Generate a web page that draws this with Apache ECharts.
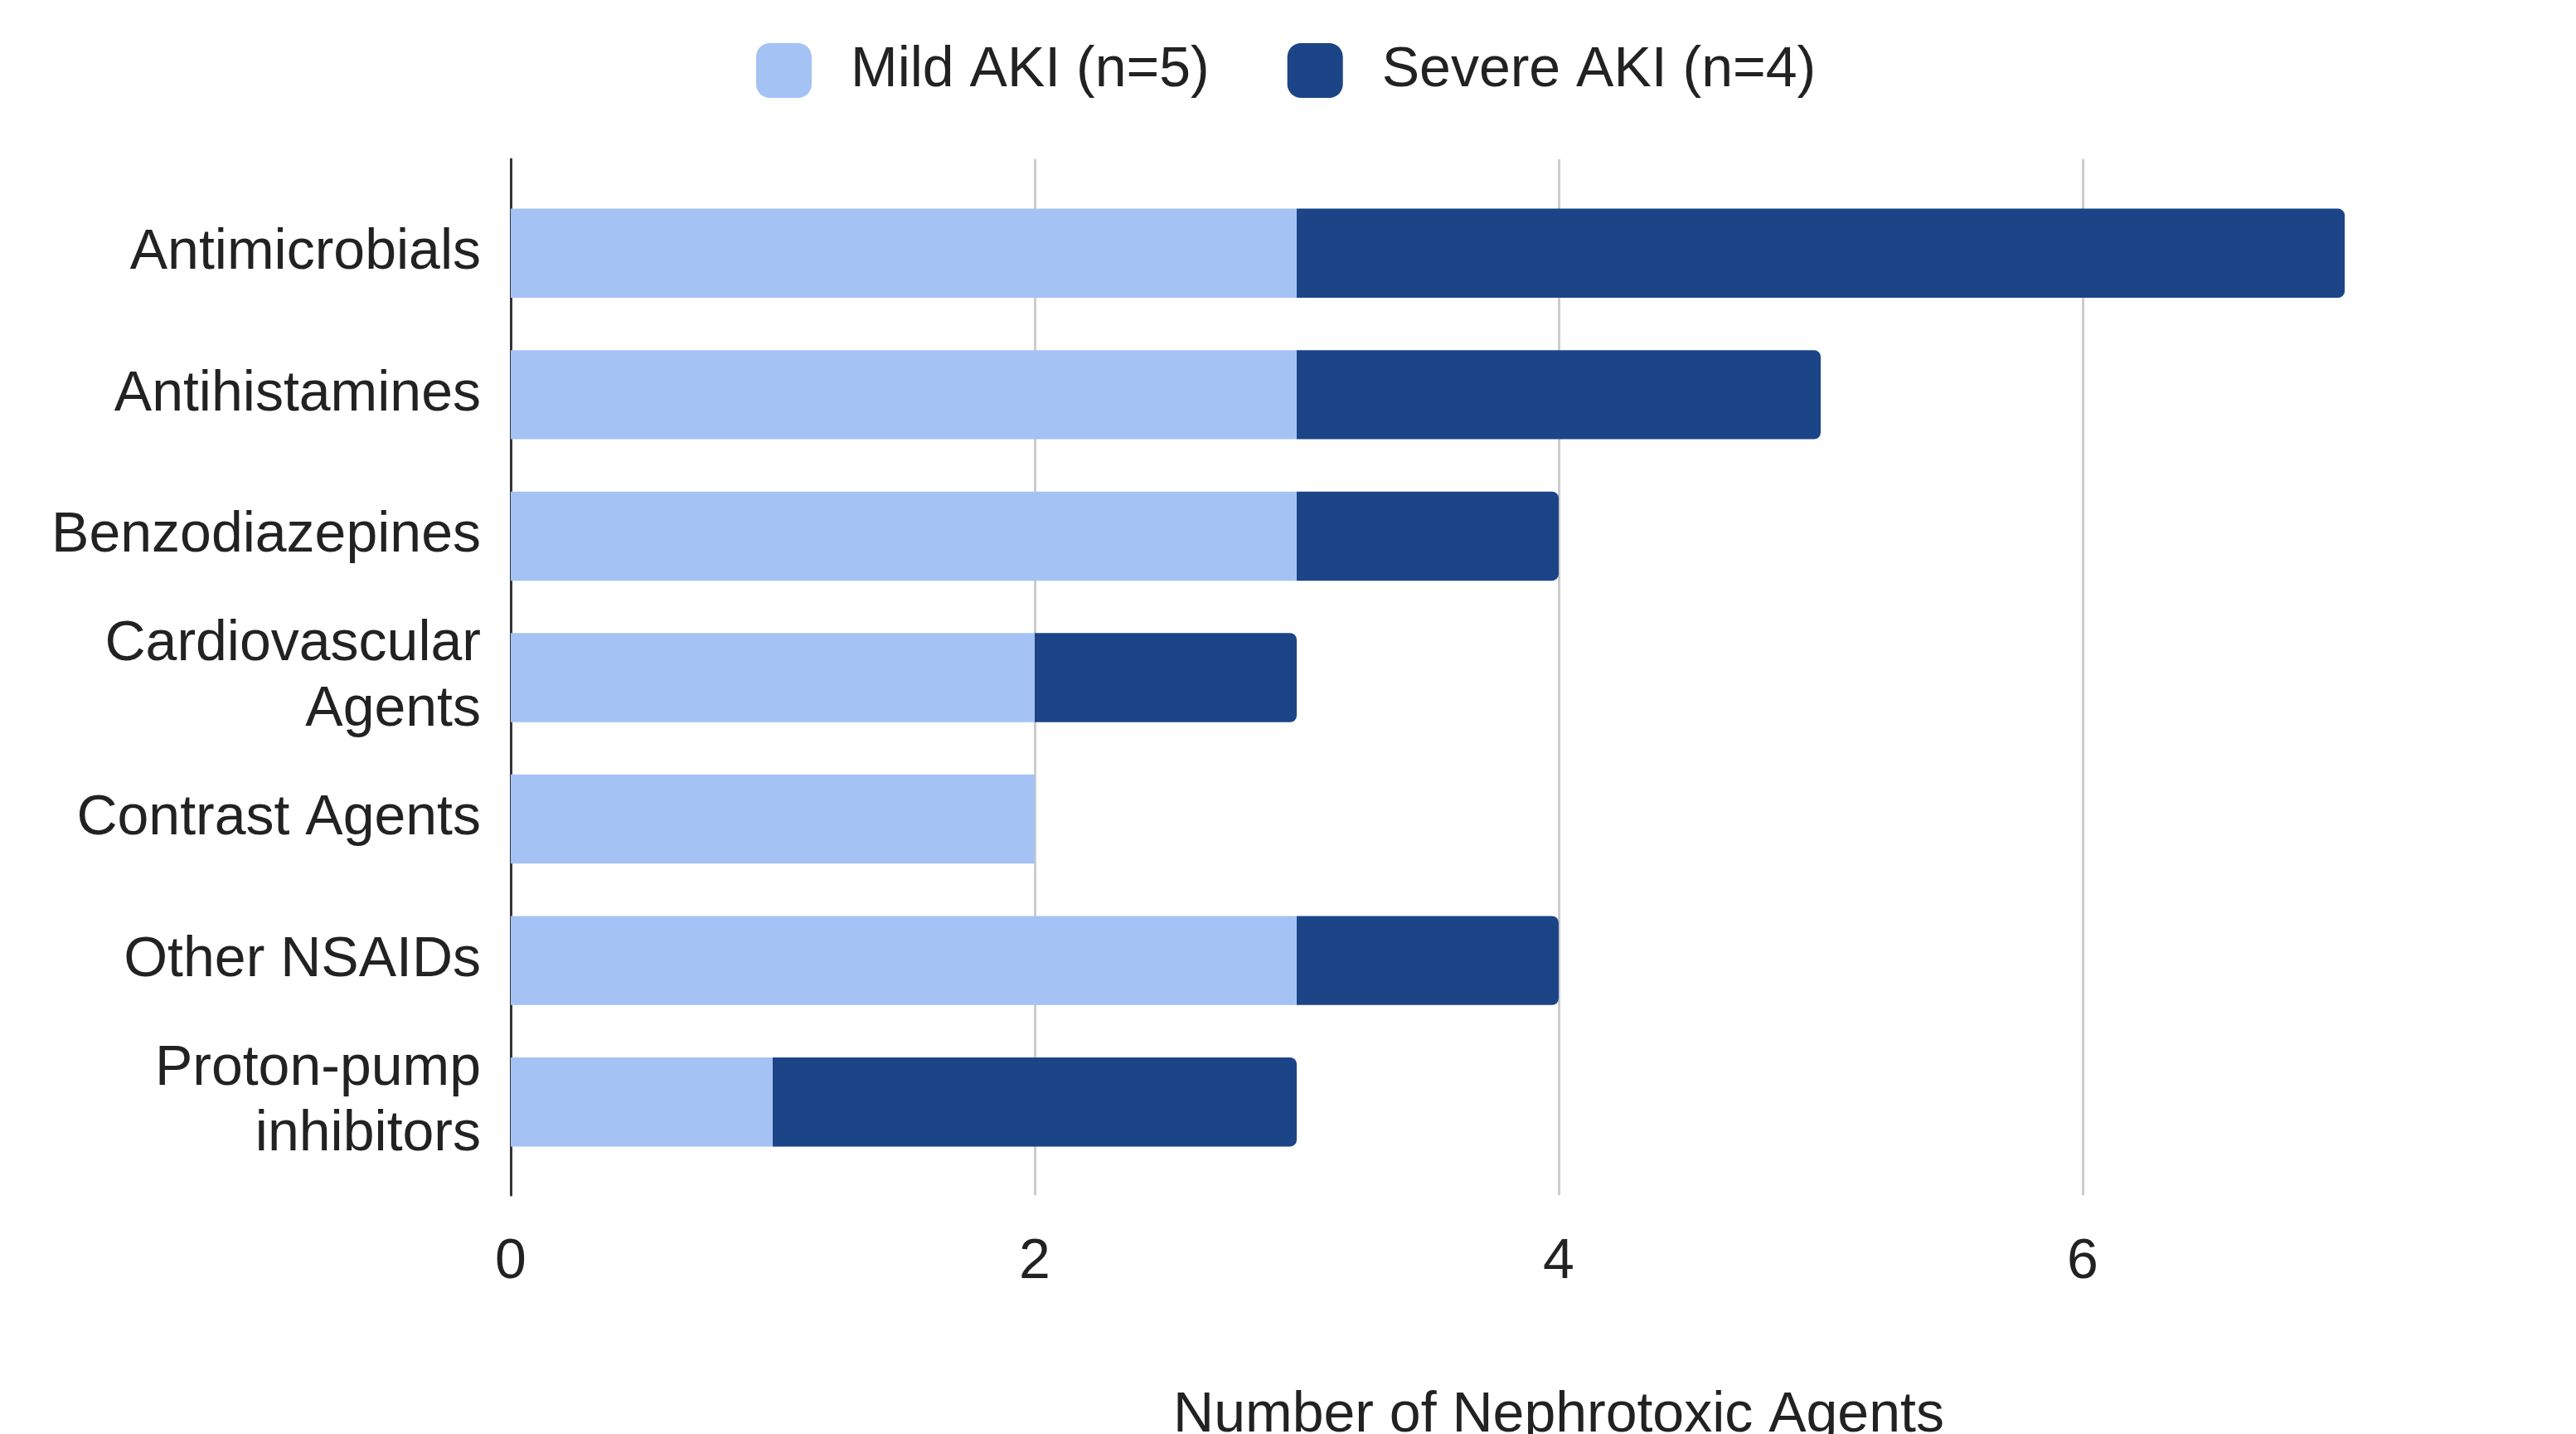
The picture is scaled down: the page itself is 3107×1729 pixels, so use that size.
<!DOCTYPE html>
<html>
<head>
<meta charset="utf-8">
<script src="https://cdn.jsdelivr.net/npm/echarts@6/dist/echarts.min.js"></script>
<style>
  html, body { margin: 0; padding: 0; background: #fff; }
  #chart { width: 3107px; height: 1729px; }
</style>
</head>
<body>
<div id="chart"></div>
<script>
// Nephrotoxic agent classes, listed top to bottom
const categories = [
  'Antimicrobials',
  'Antihistamines',
  'Benzodiazepines',
  'Cardiovascular\nAgents',
  'Contrast Agents',
  'Other NSAIDs',
  'Proton-pump\ninhibitors'
];
const mildAKI = [3, 3, 3, 2, 2, 3, 1];
const severeAKI = [4, 2, 1, 1, 0, 1, 2];
const xTicks = [0, 2, 4, 6];
const seriesNames = ['Mild AKI (n=5)', 'Severe AKI (n=4)'];

const FONT = 'Arial, "Liberation Sans", sans-serif';
const xMin = 0, xMax = 8, xStep = 2;
// plot area runs past the right edge; the 8 gridline falls outside the canvas
const plotLeft = 616, plotWidth = 2528;

const chart = echarts.init(document.getElementById('chart'));
chart.setOption({
  backgroundColor: '#ffffff',
  animation: false,
  textStyle: { fontFamily: FONT },
  legend: {
    top: 46,
    left: 907,
    itemWidth: 67,
    itemHeight: 66,
    itemGap: 94,
    icon: 'roundRect',
    data: seriesNames,
    textStyle: { fontSize: 68, color: '#222', fontFamily: FONT, padding: [0, 0, 0, 42] }
  },
  grid: [
    // frame: gridlines, baseline and value axis
    { left: plotLeft, width: plotWidth, top: 192, height: 1249, outerBoundsMode: 'none', containLabel: false },
    // bars
    { left: plotLeft, width: plotWidth, top: 220, height: 1194, outerBoundsMode: 'none', containLabel: false }
  ],
  xAxis: [
    {
      gridIndex: 0, type: 'value', min: xMin, max: xMax, interval: xStep,
      axisLine: { show: false }, axisTick: { show: false },
      splitLine: { show: true, lineStyle: { color: '#cccccc', width: 3 } },
      axisLabel: {
        margin: 47, fontSize: 68, color: '#222', fontFamily: FONT,
        formatter: v => (xTicks.indexOf(v) >= 0 ? String(v) : '')
      },
      name: 'Number of Nephrotoxic Agents',
      nameLocation: 'middle', nameGap: 232,
      nameTextStyle: { fontSize: 68, color: '#222', fontFamily: FONT }
    },
    {
      gridIndex: 1, type: 'value', min: xMin, max: xMax, interval: xStep,
      show: false, splitLine: { show: false }
    }
  ],
  yAxis: [
    {
      gridIndex: 0, type: 'category', data: categories, inverse: true,
      axisLine: { show: true, lineStyle: { color: '#333333', width: 3 } },
      axisTick: { show: false }, axisLabel: { show: false },
      splitLine: { show: false }
    },
    {
      gridIndex: 1, type: 'category', data: categories, inverse: true,
      axisLine: { show: false }, axisTick: { show: false },
      axisLabel: {
        margin: 36, fontSize: 68, lineHeight: 79, color: '#222',
        fontFamily: FONT, align: 'right', padding: [8, 0, 0, 0]
      }
    }
  ],
  series: [
    {
      name: seriesNames[0], type: 'bar', stack: 'aki',
      xAxisIndex: 1, yAxisIndex: 1,
      data: mildAKI, barCategoryGap: '37%',
      itemStyle: { color: '#a4c2f4' }
    },
    {
      name: seriesNames[1], type: 'bar', stack: 'aki',
      xAxisIndex: 1, yAxisIndex: 1,
      data: severeAKI, barCategoryGap: '37%',
      itemStyle: { color: '#1c4587', borderRadius: [0, 8, 8, 0] }
    }
  ]
});
</script>
</body>
</html>
